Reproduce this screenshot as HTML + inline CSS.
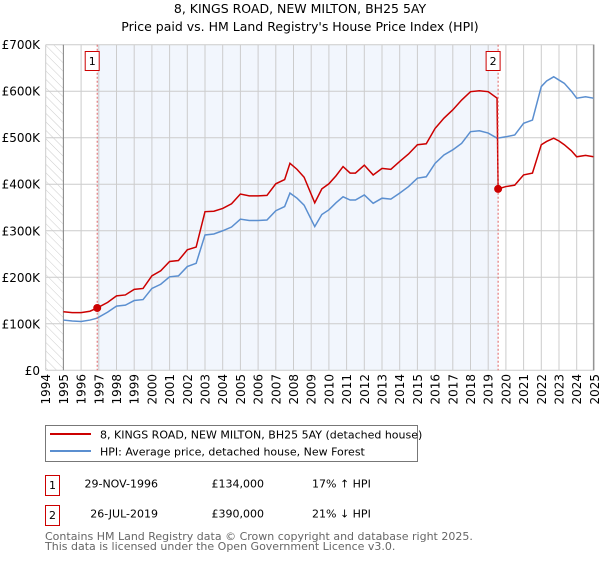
<!DOCTYPE html>
<html><head><meta charset="utf-8"><style>
body{margin:0;background:#fff;font-family:"DejaVu Sans","Liberation Sans",sans-serif;}
svg text{font-family:"DejaVu Sans","Liberation Sans",sans-serif;}
</style></head><body>
<svg id="c" width="600" height="560" xmlns="http://www.w3.org/2000/svg">
<defs><pattern id="hatch" width="6" height="6" patternUnits="userSpaceOnUse" patternTransform="rotate(-45)"><line x1="0" y1="0" x2="0" y2="6" stroke="#ccc" stroke-width="1"/></pattern></defs>
<text x="300" y="13" text-anchor="middle" font-size="12.5">8, KINGS ROAD, NEW MILTON, BH25 5AY</text>
<text x="300" y="31" text-anchor="middle" font-size="12.5">Price paid vs. HM Land Registry's House Price Index (HPI)</text>
<g id="plot"></g>
<g>
<rect x="45.5" y="425.5" width="372" height="36" fill="#fff" stroke="#777"/>
<line x1="50" y1="434" x2="91" y2="434" stroke="#cc0000" stroke-width="2"/>
<text x="100" y="438.5" font-size="11">8, KINGS ROAD, NEW MILTON, BH25 5AY (detached house)</text>
<line x1="50" y1="451" x2="91" y2="451" stroke="#5b8fd0" stroke-width="2"/>
<text x="100" y="455.5" font-size="11">HPI: Average price, detached house, New Forest</text>
</g>
<g>
<rect x="45.5" y="475.5" width="14" height="20" fill="#fff" stroke="#cc0000"/>
<text x="52.5" y="489" text-anchor="middle" font-size="11">1</text>
<text x="158" y="487.5" text-anchor="end" font-size="11">29-NOV-1996</text>
<text x="264" y="487.5" text-anchor="end" font-size="11">£134,000</text>
<text x="312" y="487.5" font-size="11">17% ↑ HPI</text>
</g>
<g>
<rect x="45.5" y="505.5" width="14" height="20" fill="#fff" stroke="#cc0000"/>
<text x="52.5" y="519" text-anchor="middle" font-size="11">2</text>
<text x="158" y="517.5" text-anchor="end" font-size="11">26-JUL-2019</text>
<text x="264" y="517.5" text-anchor="end" font-size="11">£390,000</text>
<text x="312" y="517.5" font-size="11">21% ↓ HPI</text>
</g>
<text x="45" y="540" font-size="11" fill="#666">Contains HM Land Registry data © Crown copyright and database right 2025.</text>
<text x="45" y="550" font-size="11" fill="#666">This data is licensed under the Open Government Licence v3.0.</text>
</svg>
<script>
const hpiYears=[1995,1995.5,1996,1996.5,1996.9,1997.5,1998,1998.5,1999,1999.5,2000,2000.5,2001,2001.5,2002,2002.5,2003,2003.5,2004,2004.5,2005,2005.5,2006,2006.5,2007,2007.5,2007.8,2008.2,2008.6,2009.2,2009.6,2010,2010.4,2010.8,2011.2,2011.5,2012,2012.5,2013,2013.5,2014,2014.5,2015,2015.5,2016,2016.5,2017,2017.5,2018,2018.5,2019,2019.5,2020,2020.5,2021,2021.5,2022,2022.3,2022.7,2023,2023.3,2023.7,2024,2024.5,2024.95];
const hpiValues=[108,106,105,108,112,125,138,140,150,152,176,185,201,203,223,230,291,293,300,308,325,322,322,323,343,352,381,370,355,309,335,345,360,373,366,366,377,359,370,368,381,395,413,416,445,463,474,488,513,515,510,499,502,506,531,538,610,622,631,624,617,600,585,588,585];
const propYears=[1995,1995.5,1996,1996.5,1996.91,1997.5,1998,1998.5,1999,1999.5,2000,2000.5,2001,2001.5,2002,2002.5,2003,2003.5,2004,2004.5,2005,2005.5,2006,2006.5,2007,2007.5,2007.8,2008.2,2008.6,2009.2,2009.6,2010,2010.4,2010.8,2011.2,2011.5,2012,2012.5,2013,2013.5,2014,2014.5,2015,2015.5,2016,2016.5,2017,2017.5,2018,2018.5,2019,2019.5,2019.56,2020,2020.5,2021,2021.5,2022,2022.3,2022.7,2023,2023.3,2023.7,2024,2024.5,2024.95];
const propValues=[126,124,124,127,134,146,160,162,174,176,203,214,234,236,259,265,341,342,348,358,379,375,375,376,401,410,445,432,415,360,390,401,418,438,424,424,441,420,434,432,449,465,485,487,520,542,560,581,599,601,599,585,390,395,398,420,424,485,492,499,493,485,472,459,462,459];
const sales=[{year:1996.91,value:134,label:"1"},{year:2019.56,value:390,label:"2"}];
const yTicks=[0,100,200,300,400,500,600,700];
const yTickLabels=["£0","£100K","£200K","£300K","£400K","£500K","£600K","£700K"];
const xTicks=[1994,1995,1996,1997,1998,1999,2000,2001,2002,2003,2004,2005,2006,2007,2008,2009,2010,2011,2012,2013,2014,2015,2016,2017,2018,2019,2020,2021,2022,2023,2024,2025];

const X0=45.7,X1=594.4,Y0=370.3,Y1=44.7;
const xs=y=>X0+(y-1994)/(2025-1994)*(X1-X0);
const ys=v=>Y0-v/700*(Y0-Y1);
const NS="http://www.w3.org/2000/svg";
const g=document.getElementById('plot');
function mk(t,a,p){const e=document.createElementNS(NS,t);for(const k in a)e.setAttribute(k,a[k]);(p||g).appendChild(e);return e;}
let e;
e=mk('rect',{x:X0,y:Y1,width:xs(1995)-X0,height:Y0-Y1,fill:'url(#hatch)'});


e=mk('rect',{x:xs(sales[0].year),y:Y1,width:xs(sales[1].year)-xs(sales[0].year),height:Y0-Y1,fill:'#eef3fc',opacity:0.75});


yTicks.forEach((t,i)=>{
 e=mk('line',{x1:X0,x2:X1,y1:ys(t),y2:ys(t),stroke:'#ccc'});
 
 
 e=mk('text',{x:40,y:ys(t)+4.5,'text-anchor':'end','font-size':12});
 e.textContent=yTickLabels[i];
 
 
});
xTicks.forEach(t=>{
 e=mk('line',{x1:xs(t),x2:xs(t),y1:Y1,y2:Y0,stroke:'#ccc'});
 
 
 e=mk('text',{x:0,y:0,'text-anchor':'end','font-size':12,transform:`translate(${xs(t)+4.5},374) rotate(-90)`});
 e.textContent=t;
 
 
});
e=mk('line',{x1:xs(1995),x2:xs(1995),y1:Y1,y2:Y0,stroke:'#888'});


e=mk('line',{x1:X1-1,x2:X1-1,y1:Y1,y2:Y0,stroke:'#888'});


e=mk('polyline',{points:hpiYears.map((y,i)=>xs(y)+','+ys(hpiValues[i])).join(' '),fill:'none',stroke:'#5b8fd0','stroke-width':1.5});


e=mk('polyline',{points:propYears.map((y,i)=>xs(y)+','+ys(propValues[i])).join(' '),fill:'none',stroke:'#cc0000','stroke-width':1.5});


sales.forEach(s=>{
 e=mk('line',{x1:xs(s.year),x2:xs(s.year),y1:Y1,y2:Y0,stroke:'#e06060','stroke-dasharray':'2,2'});
 
 
 e=mk('circle',{cx:xs(s.year),cy:ys(s.value),r:4,fill:'#cc0000'});
 
 
 e=mk('rect',{x:xs(s.year)-12,y:51.5,width:14,height:19,fill:'#fff',stroke:'#cc0000'});
 
 
 e=mk('text',{x:xs(s.year)-5,y:65,'text-anchor':'middle','font-size':11});
 e.textContent=s.label;
 
 
});
</script>
</body></html>
